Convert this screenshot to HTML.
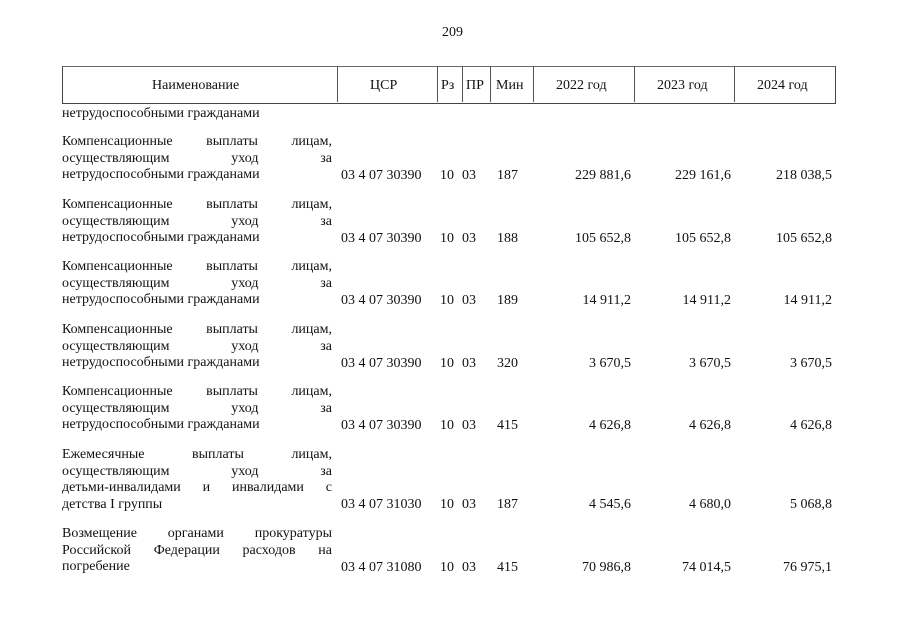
<!DOCTYPE html>
<html><head><meta charset="utf-8"><style>
body{margin:0;width:905px;height:640px;background:#fff;position:relative;overflow:hidden;font-family:"Liberation Serif","DejaVu Serif",serif;font-size:14px;color:#111}
.a{position:absolute;white-space:nowrap;line-height:16px}
.n{position:absolute;left:62px;width:270px;line-height:16.5px}
.n div{text-align:justify;text-align-last:justify;height:16.5px}
.n div.l{text-align-last:left}
.r{position:absolute;text-align:right;line-height:16px}
.h{position:absolute;top:66px;height:36px;border-left:1px solid #555;}
</style></head><body>
<div class="a" style="left:442px;top:25px">209</div>
<div style="position:absolute;left:62px;top:66px;width:772px;height:36px;border:1px solid #444;border-top-color:#666"></div>
<div class="h" style="left:337px"></div><div class="h" style="left:437px"></div><div class="h" style="left:462px"></div><div class="h" style="left:490px"></div><div class="h" style="left:533px"></div><div class="h" style="left:634px"></div><div class="h" style="left:734px"></div>
<div class="a" style="left:152px;top:78px">Наименование</div>
<div class="a" style="left:370px;top:78px">ЦСР</div>
<div class="a" style="left:441px;top:78px">Рз</div>
<div class="a" style="left:466px;top:78px">ПР</div>
<div class="a" style="left:496px;top:78px">Мин</div>
<div class="a" style="left:556px;top:78px">2022 год</div>
<div class="a" style="left:657px;top:78px">2023 год</div>
<div class="a" style="left:757px;top:78px">2024 год</div>
<div class="a" style="left:62px;top:106px">нетрудоспособными гражданами</div>

<div class="n" style="top:134px"><div>Компенсационные выплаты лицам,</div><div>осуществляющим уход за</div><div class="l">нетрудоспособными гражданами</div></div>
<div class="n" style="top:197px"><div>Компенсационные выплаты лицам,</div><div>осуществляющим уход за</div><div class="l">нетрудоспособными гражданами</div></div>
<div class="n" style="top:259px"><div>Компенсационные выплаты лицам,</div><div>осуществляющим уход за</div><div class="l">нетрудоспособными гражданами</div></div>
<div class="n" style="top:322px"><div>Компенсационные выплаты лицам,</div><div>осуществляющим уход за</div><div class="l">нетрудоспособными гражданами</div></div>
<div class="n" style="top:384px"><div>Компенсационные выплаты лицам,</div><div>осуществляющим уход за</div><div class="l">нетрудоспособными гражданами</div></div>
<div class="n" style="top:447px"><div>Ежемесячные выплаты лицам,</div><div>осуществляющим уход за</div><div>детьми-инвалидами и инвалидами с</div><div class="l">детства I группы</div></div>
<div class="n" style="top:526px"><div>Возмещение органами прокуратуры</div><div>Российской Федерации расходов на</div><div class="l">погребение</div></div>

<div class="a" style="left:341px;top:168px">03 4 07 30390</div><div class="a" style="left:440px;top:168px">10</div><div class="a" style="left:462px;top:168px">03</div><div class="a" style="left:497px;top:168px">187</div>
<div class="r" style="right:274px;top:168px">229 881,6</div><div class="r" style="right:174px;top:168px">229 161,6</div><div class="r" style="right:73px;top:168px">218 038,5</div>
<div class="a" style="left:341px;top:231px">03 4 07 30390</div><div class="a" style="left:440px;top:231px">10</div><div class="a" style="left:462px;top:231px">03</div><div class="a" style="left:497px;top:231px">188</div>
<div class="r" style="right:274px;top:231px">105 652,8</div><div class="r" style="right:174px;top:231px">105 652,8</div><div class="r" style="right:73px;top:231px">105 652,8</div>
<div class="a" style="left:341px;top:293px">03 4 07 30390</div><div class="a" style="left:440px;top:293px">10</div><div class="a" style="left:462px;top:293px">03</div><div class="a" style="left:497px;top:293px">189</div>
<div class="r" style="right:274px;top:293px">14 911,2</div><div class="r" style="right:174px;top:293px">14 911,2</div><div class="r" style="right:73px;top:293px">14 911,2</div>
<div class="a" style="left:341px;top:356px">03 4 07 30390</div><div class="a" style="left:440px;top:356px">10</div><div class="a" style="left:462px;top:356px">03</div><div class="a" style="left:497px;top:356px">320</div>
<div class="r" style="right:274px;top:356px">3 670,5</div><div class="r" style="right:174px;top:356px">3 670,5</div><div class="r" style="right:73px;top:356px">3 670,5</div>
<div class="a" style="left:341px;top:418px">03 4 07 30390</div><div class="a" style="left:440px;top:418px">10</div><div class="a" style="left:462px;top:418px">03</div><div class="a" style="left:497px;top:418px">415</div>
<div class="r" style="right:274px;top:418px">4 626,8</div><div class="r" style="right:174px;top:418px">4 626,8</div><div class="r" style="right:73px;top:418px">4 626,8</div>
<div class="a" style="left:341px;top:497px">03 4 07 31030</div><div class="a" style="left:440px;top:497px">10</div><div class="a" style="left:462px;top:497px">03</div><div class="a" style="left:497px;top:497px">187</div>
<div class="r" style="right:274px;top:497px">4 545,6</div><div class="r" style="right:174px;top:497px">4 680,0</div><div class="r" style="right:73px;top:497px">5 068,8</div>
<div class="a" style="left:341px;top:560px">03 4 07 31080</div><div class="a" style="left:440px;top:560px">10</div><div class="a" style="left:462px;top:560px">03</div><div class="a" style="left:497px;top:560px">415</div>
<div class="r" style="right:274px;top:560px">70 986,8</div><div class="r" style="right:174px;top:560px">74 014,5</div><div class="r" style="right:73px;top:560px">76 975,1</div>
</body></html>
